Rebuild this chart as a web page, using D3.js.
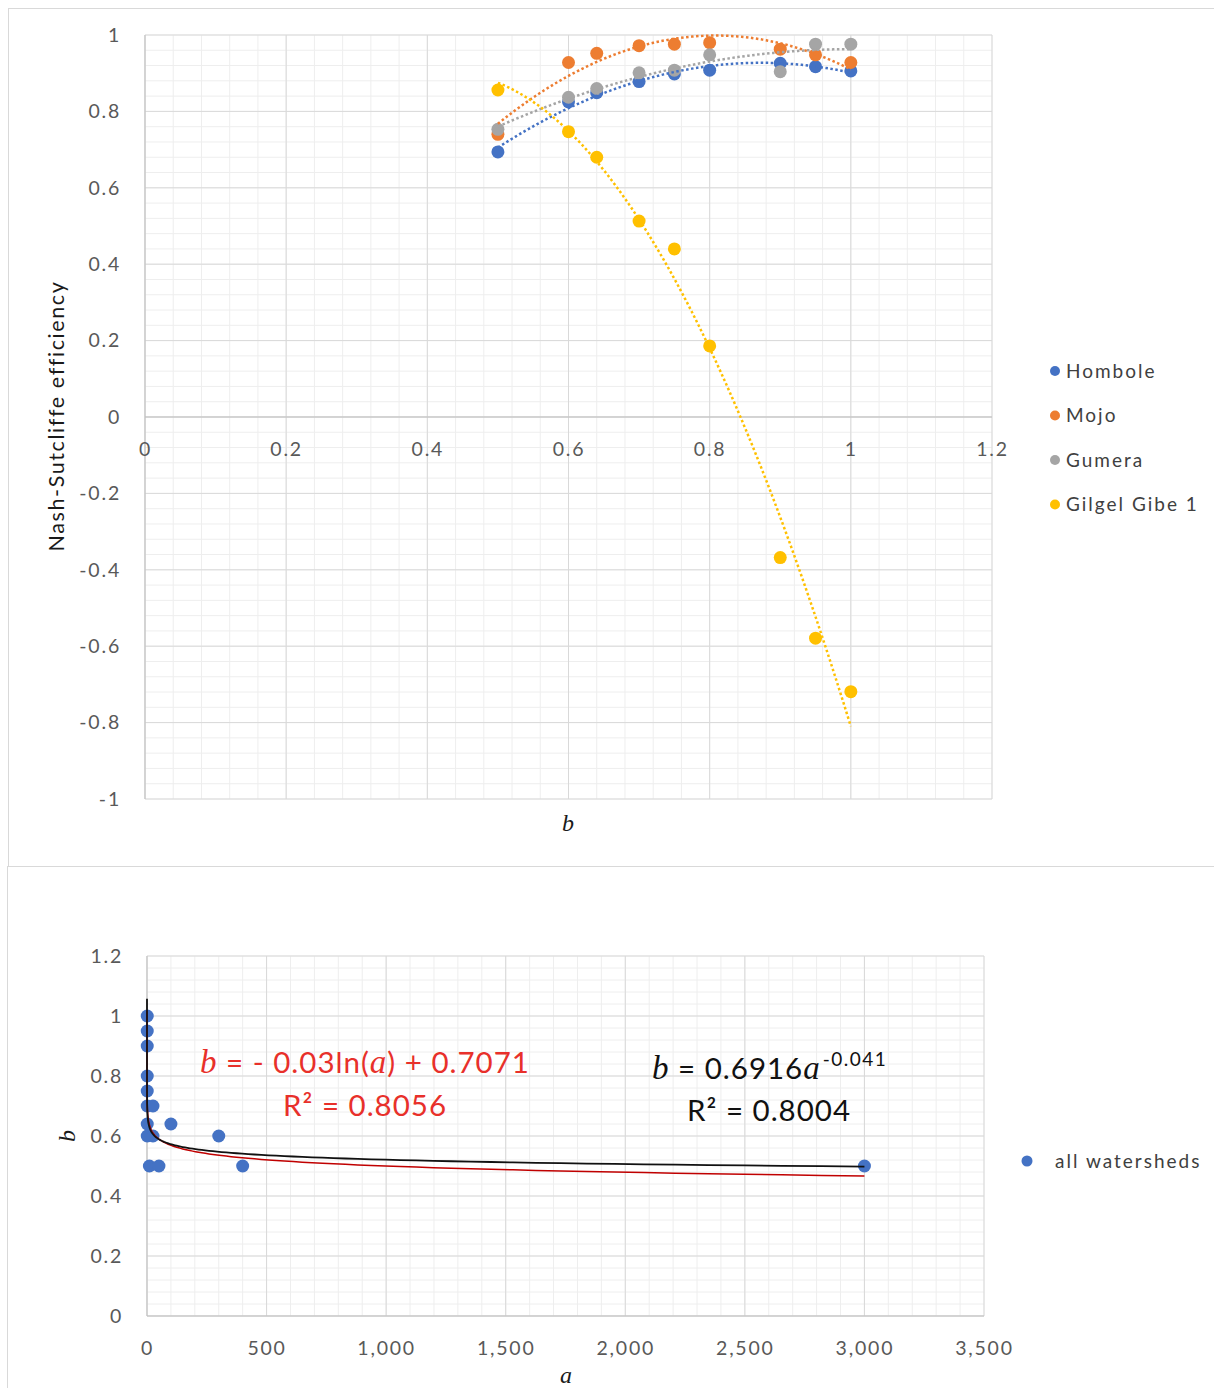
<!DOCTYPE html>
<meta charset="utf-8">
<head>
<style>
  body { margin: 0; background: white; font-family: Lato, "Open Sans", sans-serif; }
  svg { display: block; }
  .tick text { fill: #595959; font-size: 19.5px; letter-spacing: 1.8px; font-family: Lato, sans-serif; }
  .legend text { fill: #404040; font-size: 19px; letter-spacing: 2px; }
</style>
<script src="https://cdn.jsdelivr.net/npm/d3@7"></script>
</head>
<body>
<svg id="chart"></svg>
<script>
// ---- top chart: NSE against b for each watershed
const bValues = [0.5, 0.6, 0.64, 0.7, 0.75, 0.8, 0.9, 0.95, 1]
const hombole = [0.694, 0.825, 0.849, 0.878, 0.898, 0.908, 0.926, 0.917, 0.906]
const mojo    = [0.740, 0.928, 0.952, 0.972, 0.976, 0.980, 0.963, 0.948, 0.928]
const gumera  = [0.753, 0.837, 0.860, 0.901, 0.908, 0.948, 0.904, 0.976, 0.976]
const gilgel  = [0.856, 0.747, 0.680, 0.513, 0.440, 0.186, -0.368, -0.579, -0.719]
const seriesNames = ["Hombole", "Mojo", "Gumera", "Gilgel Gibe 1"]
const seriesColors = ["#4472c4", "#ed7d31", "#a5a5a5", "#ffc000"]
const topXTicks = [0, 0.2, 0.4, 0.6, 0.8, 1, 1.2]
const topYTicks = [1, 0.8, 0.6, 0.4, 0.2, 0, -0.2, -0.4, -0.6, -0.8, -1]

// ---- bottom chart: fitted b against a, all watersheds
const aPoints = [1, 1, 1, 1, 1, 1, 1, 1, 10, 25, 25, 50, 100, 300, 400, 3000]
const bPoints = [1, 0.95, 0.9, 0.8, 0.75, 0.7, 0.64, 0.6, 0.5, 0.7, 0.6, 0.5, 0.64, 0.6, 0.5, 0.5]
const logFit = { slope: -0.03, intercept: 0.7071, r2: "0.8056" }
const powFit = { coef: 0.6916, exp: -0.041, r2: "0.8004" }
const botXTicks = [0, 500, 1000, 1500, 2000, 2500, 3000, 3500]
const botYTicks = [0, 0.2, 0.4, 0.6, 0.8, 1, 1.2]

const svg = d3.select("#chart").attr("width", 1214).attr("height", 1388)

// frames
svg.append("rect").attr("x", 8.5).attr("y", 8.5).attr("width", 1220).attr("height", 858)
  .attr("fill", "none").attr("stroke", "#d9d9d9")
svg.append("rect").attr("x", 7.5).attr("y", 866.5).attr("width", 1220).attr("height", 540)
  .attr("fill", "none").attr("stroke", "#d9d9d9")

// least squares quadratic, same as an order 2 polynomial trendline
function polyFit2(xs, ys) {
  let s = [0, 0, 0, 0, 0], t = [0, 0, 0]
  xs.forEach((x, i) => {
    for (let k = 0; k < 5; k++) s[k] += Math.pow(x, k)
    for (let k = 0; k < 3; k++) t[k] += ys[i] * Math.pow(x, k)
  })
  let m = [[s[0], s[1], s[2], t[0]], [s[1], s[2], s[3], t[1]], [s[2], s[3], s[4], t[2]]]
  for (let c = 0; c < 3; c++) {
    for (let r = c + 1; r < 3; r++) {
      let f = m[r][c] / m[c][c]
      for (let k = c; k < 4; k++) m[r][k] -= f * m[c][k]
    }
  }
  let coef = [0, 0, 0]
  for (let r = 2; r >= 0; r--) {
    let v = m[r][3]
    for (let k = r + 1; k < 3; k++) v -= m[r][k] * coef[k]
    coef[r] = v / m[r][r]
  }
  return x => coef[0] + coef[1] * x + coef[2] * x * x
}

function drawGrid(g, x, y, xMinor, yMinor, xMajor, yMajor) {
  let [x0, x1] = x.range(), [y0, y1] = y.range()
  g.selectAll(".vminor").data(xMinor).enter().append("line")
    .attr("x1", d => x(d)).attr("x2", d => x(d)).attr("y1", y0).attr("y2", y1)
    .attr("stroke", "#eeeeee")
  g.selectAll(".hminor").data(yMinor).enter().append("line")
    .attr("y1", d => y(d)).attr("y2", d => y(d)).attr("x1", x0).attr("x2", x1)
    .attr("stroke", "#eeeeee")
  g.selectAll(".vmajor").data(xMajor).enter().append("line")
    .attr("x1", d => x(d)).attr("x2", d => x(d)).attr("y1", y0).attr("y2", y1)
    .attr("stroke", "#d9d9d9")
  g.selectAll(".hmajor").data(yMajor).enter().append("line")
    .attr("y1", d => y(d)).attr("y2", d => y(d)).attr("x1", x0).attr("x2", x1)
    .attr("stroke", "#d9d9d9")
}

function drawTopChart() {
  let x = d3.scaleLinear().domain([0, 1.2]).range([145, 992])
  let y = d3.scaleLinear().domain([-1, 1]).range([799, 35])
  let g = svg.append("g")

  drawGrid(g, x, y, d3.range(31).map(i => i * 0.04), d3.range(51).map(i => -1 + i * 0.04), topXTicks, topYTicks)

  // axis lines through the origin
  g.append("line").attr("x1", x(0)).attr("x2", x(0)).attr("y1", y(1)).attr("y2", y(-1)).attr("stroke", "#bfbfbf")
  g.append("line").attr("x1", x(0)).attr("x2", x(1.2)).attr("y1", y(0)).attr("y2", y(0)).attr("stroke", "#bfbfbf")

  let fmt = d => String(+d.toFixed(1))
  g.append("g").attr("transform", `translate(${x(0)},0)`)
    .call(d3.axisLeft(y).tickValues(topYTicks).tickSize(0).tickPadding(24).tickFormat(fmt))
    .call(a => a.select(".domain").remove())
  g.append("g").attr("transform", `translate(0,${y(0)})`)
    .call(d3.axisBottom(x).tickValues(topXTicks).tickSize(0).tickPadding(25).tickFormat(fmt))
    .call(a => a.select(".domain").remove())

  let allSeries = [hombole, mojo, gumera, gilgel]
  let line = d3.line().x(d => x(d[0])).y(d => y(d[1]))

  allSeries.forEach((vals, i) => {
    g.selectAll(".pt" + i).data(vals).enter().append("circle")
      .attr("cx", (d, j) => x(bValues[j])).attr("cy", d => y(d)).attr("r", 6.5)
      .attr("fill", seriesColors[i])
  })
  allSeries.forEach((vals, i) => {
    let f = polyFit2(bValues, vals)
    let xs = d3.range(0, 101).map(k => 0.5 + k * 0.005)
    g.append("path").datum(xs.map(v => [v, f(v)]))
      .attr("d", line).attr("fill", "none").attr("stroke", seriesColors[i])
      .attr("stroke-width", 2.5).attr("stroke-dasharray", "2.5 2.5")
  })

  // titles
  g.append("text").attr("transform", "translate(64,416) rotate(-90)")
    .attr("text-anchor", "middle").attr("font-size", 21.5).attr("letter-spacing", 1.6)
    .attr("fill", "#1a1a1a").text("Nash-Sutcliffe efficiency")
  g.append("text").attr("x", 568).attr("y", 831).attr("text-anchor", "middle")
    .attr("font-family", "Liberation Serif, serif").attr("font-style", "italic")
    .attr("font-size", 24).attr("fill", "#1a1a1a").text("b")

  // legend
  let leg = g.append("g").attr("class", "legend")
  let items = leg.selectAll("g").data(seriesNames).enter().append("g")
    .attr("transform", (d, i) => `translate(1055,${371 + i * 44.5})`)
  items.append("circle").attr("r", 5).attr("fill", (d, i) => seriesColors[i])
  items.append("text").attr("x", 11).attr("dy", "0.35em").text(d => d)
}

function drawBottomChart() {
  let x = d3.scaleLinear().domain([0, 3500]).range([147, 984])
  let y = d3.scaleLinear().domain([0, 1.2]).range([1316, 956])
  let g = svg.append("g")

  drawGrid(g, x, y, d3.range(36).map(i => i * 100), d3.range(31).map(i => i * 0.04), botXTicks, botYTicks)

  g.append("line").attr("x1", x(0)).attr("x2", x(0)).attr("y1", y(0)).attr("y2", y(1.2)).attr("stroke", "#bfbfbf")
  g.append("line").attr("x1", x(0)).attr("x2", x(3500)).attr("y1", y(0)).attr("y2", y(0)).attr("stroke", "#bfbfbf")

  g.append("g").attr("transform", `translate(${x(0)},0)`)
    .call(d3.axisLeft(y).tickValues(botYTicks).tickSize(0).tickPadding(24).tickFormat(d => String(+d.toFixed(1))))
    .call(a => a.select(".domain").remove())
  g.append("g").attr("transform", `translate(0,${y(0)})`)
    .call(d3.axisBottom(x).tickValues(botXTicks).tickSize(0).tickPadding(25).tickFormat(d3.format(",")))
    .call(a => a.select(".domain").remove())

  g.selectAll(".pt").data(aPoints).enter().append("circle")
    .attr("cx", d => x(d)).attr("cy", (d, i) => y(bPoints[i])).attr("r", 6.5)
    .attr("fill", "#4472c4")

  // trendlines from the fitted equations shown on the chart
  let as = d3.range(0, 301).map(k => Math.pow(10, -4.5 + k * (Math.log10(3000) + 4.5) / 300))
  let line = d3.line().x(d => x(d[0])).y(d => y(d[1]))
  g.append("path").datum(as.map(a => [a, logFit.slope * Math.log(a) + logFit.intercept]).filter(d => d[1] <= 1.07))
    .attr("d", line).attr("fill", "none").attr("stroke", "#c00000").attr("stroke-width", 1.5)
  g.append("path").datum(as.map(a => [a, powFit.coef * Math.pow(a, powFit.exp)]).filter(d => d[1] <= 1.065))
    .attr("d", line).attr("fill", "none").attr("stroke", "#111111").attr("stroke-width", 1.8)

  // equations
  let serif = "Liberation Serif, serif"
  let red = "#e8302a"
  let eq1 = g.append("text").attr("x", 200).attr("y", 1073).attr("font-size", 29.5)
    .attr("letter-spacing", 1).attr("fill", red)
  eq1.append("tspan").attr("font-family", serif).attr("font-style", "italic").attr("font-size", 33).text("b")
  eq1.append("tspan").text(" = - 0.03ln(")
  eq1.append("tspan").attr("font-family", serif).attr("font-style", "italic").attr("font-size", 33).text("a")
  eq1.append("tspan").text(`) + ${logFit.intercept}`)
  g.append("text").attr("x", 283).attr("y", 1116).attr("font-size", 29.5).attr("letter-spacing", 1).attr("fill", red)
    .text(`R² = ${logFit.r2}`)

  let eq2 = g.append("text").attr("x", 652).attr("y", 1079).attr("font-size", 29.5)
    .attr("letter-spacing", 1).attr("fill", "#111")
  eq2.append("tspan").attr("font-family", serif).attr("font-style", "italic").attr("font-size", 33).text("b")
  eq2.append("tspan").text(` = ${powFit.coef}`)
  eq2.append("tspan").attr("font-family", serif).attr("font-style", "italic").attr("font-size", 33).text("a")
  eq2.append("tspan").attr("font-size", 19).attr("dy", -13).attr("dx", 2).attr("letter-spacing", 1.5)
    .text(`-${Math.abs(powFit.exp)}`)
  g.append("text").attr("x", 687).attr("y", 1121).attr("font-size", 29.5).attr("letter-spacing", 1).attr("fill", "#111")
    .text(`R² = ${powFit.r2}`)

  // titles
  g.append("text").attr("transform", "translate(75,1136) rotate(-90)").attr("text-anchor", "middle")
    .attr("font-family", serif).attr("font-style", "italic").attr("font-size", 24).attr("fill", "#1a1a1a").text("b")
  g.append("text").attr("x", 566).attr("y", 1383).attr("text-anchor", "middle")
    .attr("font-family", serif).attr("font-style", "italic").attr("font-size", 24).attr("fill", "#1a1a1a").text("a")

  let leg = g.append("g").attr("class", "legend").attr("transform", "translate(1027,1161)")
  leg.append("circle").attr("r", 5.5).attr("fill", "#4472c4")
  leg.append("text").attr("x", 28).attr("dy", "0.35em").text("all watersheds")
}

drawTopChart()
drawBottomChart()
</script>
</body>
